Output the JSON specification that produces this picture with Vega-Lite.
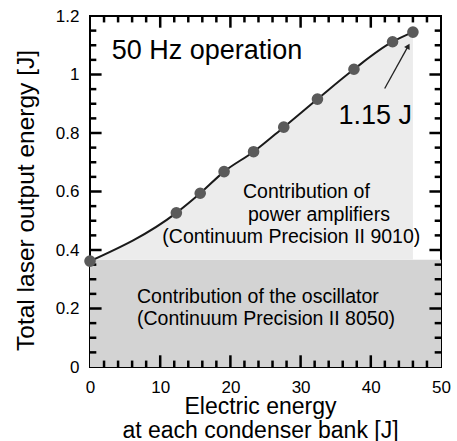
{
  "$schema": "https://vega.github.io/schema/vega-lite/v6.json",
  "width": 351,
  "height": 351,
  "autosize": {"type": "none"},
  "padding": {"left": 90, "top": 16, "right": 16, "bottom": 74},
  "background": "white",
  "config": {"view": {"stroke": "black", "strokeWidth": 2}, "font": "Liberation Sans"},
  "datasets": {
    "pts": [
      {"x": 0, "y": 0.362},
      {"x": 12.3, "y": 0.527},
      {"x": 15.7, "y": 0.594},
      {"x": 19.1, "y": 0.668},
      {"x": 23.3, "y": 0.736},
      {"x": 27.6, "y": 0.82},
      {"x": 32.4, "y": 0.916},
      {"x": 37.6, "y": 1.018},
      {"x": 43.1, "y": 1.112},
      {"x": 46.0, "y": 1.145}
    ],
    "band": [{"x": 0, "x2": 50, "y": 0, "y2": 0.367}],
    "labels": [
      {"x": 3.1, "y": 1.054, "text": "50 Hz operation", "size": 27},
      {"x": 35.4, "y": 0.832, "text": "1.15 J", "size": 27},
      {"x": 21.8, "y": 0.577, "text": "Contribution of", "size": 19.5},
      {"x": 22.5, "y": 0.498, "text": "power amplifiers", "size": 19.5},
      {"x": 10.3, "y": 0.423, "text": "(Continuum Precision II 9010)", "size": 19.5},
      {"x": 6.7, "y": 0.218, "text": "Contribution of the oscillator", "size": 19.5},
      {"x": 6.7, "y": 0.143, "text": "(Continuum Precision II 8050)", "size": 19.5}
    ],
    "arrow": [{"x": 41.98, "y": 0.952, "x2": 45.3, "y2": 1.096}],
    "head": [{"x": 45.33, "y": 1.097}],
    "xmaj": [{"v": 10}, {"v": 20}, {"v": 30}, {"v": 40}],
    "xmin": [{"v": 2}, {"v": 4}, {"v": 6}, {"v": 8}, {"v": 12}, {"v": 14}, {"v": 16}, {"v": 18}, {"v": 22}, {"v": 24}, {"v": 26}, {"v": 28}, {"v": 32}, {"v": 34}, {"v": 36}, {"v": 38}, {"v": 42}, {"v": 44}, {"v": 46}, {"v": 48}],
    "ymaj": [{"v": 0.2}, {"v": 0.4}, {"v": 0.6}, {"v": 0.8}, {"v": 1.0}],
    "ymin": [{"v": 0.05}, {"v": 0.1}, {"v": 0.15}, {"v": 0.25}, {"v": 0.3}, {"v": 0.35}, {"v": 0.45}, {"v": 0.5}, {"v": 0.55}, {"v": 0.65}, {"v": 0.7}, {"v": 0.75}, {"v": 0.85}, {"v": 0.9}, {"v": 0.95}, {"v": 1.05}, {"v": 1.1}, {"v": 1.15}]
  },
  "layer": [
    {
      "data": {"name": "band"},
      "mark": {"type": "rect", "color": "#d3d3d3"},
      "encoding": {
        "x": {"field": "x", "type": "quantitative", "scale": {"domain": [0, 50], "nice": false},
          "axis": {"orient": "bottom", "values": [0, 10, 20, 30, 40, 50], "ticks": false,
            "domain": false, "labelPadding": 12, "labelFontSize": 17, "labelColor": "black", "labelFlush": false,
            "title": ["Electric energy", "at each condenser bank [J]"], "titleFontSize": 23, "titleFontWeight": "normal", "titleColor": "black",
            "titleLineHeight": 24, "titleX": 170, "titleY": 46, "titleBaseline": "alphabetic", "grid": false}},
        "x2": {"field": "x2"},
        "y": {"field": "y", "type": "quantitative", "scale": {"domain": [0, 1.2], "nice": false},
          "axis": {"orient": "left", "values": [0, 0.2, 0.4, 0.6, 0.8, 1, 1.2], "format": "~g", "ticks": false,
            "domain": false, "labelPadding": 11, "labelFontSize": 17, "labelColor": "black", "labelFlush": false,
            "title": "Total laser output energy [J]", "titleFontSize": 24.5, "titleFontWeight": "normal", "titleColor": "black",
            "titleX": -57, "titleY": 184, "titleBaseline": "alphabetic", "titleAngle": 270, "grid": false}},
        "y2": {"field": "y2"}
      }
    },
    {
      "data": {"name": "pts"},
      "mark": {"type": "area", "color": "#ececec", "interpolate": "monotone"},
      "encoding": {
        "x": {"field": "x", "type": "quantitative"},
        "y": {"field": "y", "type": "quantitative"},
        "y2": {"datum": 0.367}
      }
    },
    {
      "data": {"name": "xmaj"},
      "mark": {"type": "rule", "color": "#000000", "strokeWidth": 2.5},
      "encoding": {"x": {"field": "v", "type": "quantitative"}, "y": {"datum": 0}, "y2": {"datum": 0.04}}
    },
    {
      "data": {"name": "xmaj"},
      "mark": {"type": "rule", "color": "#000000", "strokeWidth": 2.5},
      "encoding": {"x": {"field": "v", "type": "quantitative"}, "y": {"datum": 1.2}, "y2": {"datum": 1.16}}
    },
    {
      "data": {"name": "xmin"},
      "mark": {"type": "rule", "color": "#000000", "strokeWidth": 2.5},
      "encoding": {"x": {"field": "v", "type": "quantitative"}, "y": {"datum": 0}, "y2": {"datum": 0.022}}
    },
    {
      "data": {"name": "xmin"},
      "mark": {"type": "rule", "color": "#000000", "strokeWidth": 2.5},
      "encoding": {"x": {"field": "v", "type": "quantitative"}, "y": {"datum": 1.2}, "y2": {"datum": 1.178}}
    },
    {
      "data": {"name": "ymaj"},
      "mark": {"type": "rule", "color": "#000000", "strokeWidth": 2.5},
      "encoding": {"y": {"field": "v", "type": "quantitative"}, "x": {"datum": 0}, "x2": {"datum": 1.65}}
    },
    {
      "data": {"name": "ymaj"},
      "mark": {"type": "rule", "color": "#000000", "strokeWidth": 2.5},
      "encoding": {"y": {"field": "v", "type": "quantitative"}, "x": {"datum": 50}, "x2": {"datum": 48.35}}
    },
    {
      "data": {"name": "ymin"},
      "mark": {"type": "rule", "color": "#000000", "strokeWidth": 2.5},
      "encoding": {"y": {"field": "v", "type": "quantitative"}, "x": {"datum": 0}, "x2": {"datum": 0.9}}
    },
    {
      "data": {"name": "ymin"},
      "mark": {"type": "rule", "color": "#000000", "strokeWidth": 2.5},
      "encoding": {"y": {"field": "v", "type": "quantitative"}, "x": {"datum": 50}, "x2": {"datum": 49.1}}
    },
    {
      "data": {"name": "pts"},
      "mark": {"type": "line", "color": "#1a1a1a", "strokeWidth": 2, "interpolate": "monotone"},
      "encoding": {
        "x": {"field": "x", "type": "quantitative"},
        "y": {"field": "y", "type": "quantitative"}
      }
    },
    {
      "data": {"name": "pts"},
      "mark": {"type": "point", "shape": "circle", "filled": true, "color": "#5a5a5a", "size": 135, "opacity": 1},
      "encoding": {
        "x": {"field": "x", "type": "quantitative"},
        "y": {"field": "y", "type": "quantitative"}
      }
    },
    {
      "data": {"name": "labels"},
      "mark": {"type": "text", "align": "left", "baseline": "alphabetic", "color": "black"},
      "encoding": {
        "x": {"field": "x", "type": "quantitative"},
        "y": {"field": "y", "type": "quantitative"},
        "text": {"field": "text"},
        "size": {"field": "size", "type": "quantitative", "scale": null, "legend": null}
      }
    },
    {
      "data": {"name": "arrow"},
      "mark": {"type": "rule", "color": "#222", "strokeWidth": 1.3},
      "encoding": {
        "x": {"field": "x", "type": "quantitative"},
        "y": {"field": "y", "type": "quantitative"},
        "x2": {"field": "x2"},
        "y2": {"field": "y2"}
      }
    },
    {
      "data": {"name": "head"},
      "mark": {"type": "point", "shape": "triangle-up", "filled": true, "color": "#222", "size": 40, "angle": 29, "opacity": 1},
      "encoding": {
        "x": {"field": "x", "type": "quantitative"},
        "y": {"field": "y", "type": "quantitative"}
      }
    }
  ]
}
